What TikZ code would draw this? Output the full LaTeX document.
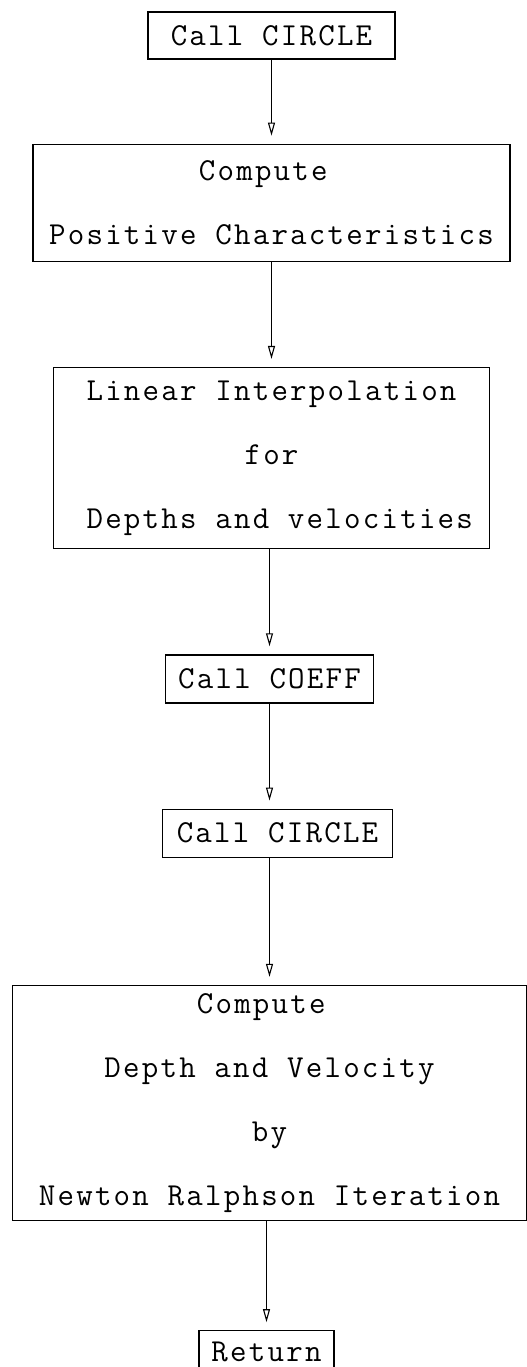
\documentclass[tikz,border=0pt]{standalone}
\usepackage{fontspec}
\setmonofont{Latin Modern Mono}[LetterSpace=7]
\usetikzlibrary{arrows.meta,positioning}

\begin{document}
\begin{tikzpicture}[x=1pt, y=1pt,
  font=\ttfamily\fontsize{32pt}{64pt}\selectfont,
  stepbox/.style={draw, line width=1.3pt, inner sep=0pt, align=center},
  flow/.style={-{Triangle[open, length=13pt, width=7pt]}, line width=1.1pt, shorten >=8pt}]
\useasboundingbox (0,0) rectangle (527,-1367);
\node[stepbox, minimum width=247pt, minimum height=47pt] (circlea) at (271.5,-35.5) {Call CIRCLE};
\node[stepbox, minimum width=477pt, minimum height=117pt, below=84pt of circlea] (posChar) {Compute\hphantom{x}\\Positive Characteristics};
\node[stepbox, minimum width=436pt, minimum height=181pt, below=105pt of posChar] (interp) {Linear Interpolation\\for\\\hphantom{x}Depths and velocities};
\node[stepbox, minimum width=208pt, minimum height=48pt, below=105pt of interp, xshift=-2pt] (coeff) {Call COEFF};
\node[stepbox, minimum width=230pt, minimum height=48pt, below=105pt of coeff, xshift=8pt] (circleb) {Call CIRCLE};
\node[stepbox, minimum width=514pt, minimum height=235pt, below=127pt of circleb, xshift=-8pt] (newton) {Compute\hphantom{x}\\Depth and Velocity\\by\\Newton Ralphson Iteration};
\node[stepbox, minimum width=135pt, minimum height=42pt, below=109pt of newton, xshift=-3pt] (ret) {Return};
\draw[flow] (circlea) -- (posChar);
\draw[flow] (posChar) -- (interp);
\draw[flow] (interp.south -| coeff) -- (coeff);
\draw[flow] (coeff) -- (coeff |- circleb.north);
\draw[flow] (newton |- circleb.south) -- (newton);
\draw[flow] (ret |- newton.south) -- (ret);
\end{tikzpicture}
\end{document}
